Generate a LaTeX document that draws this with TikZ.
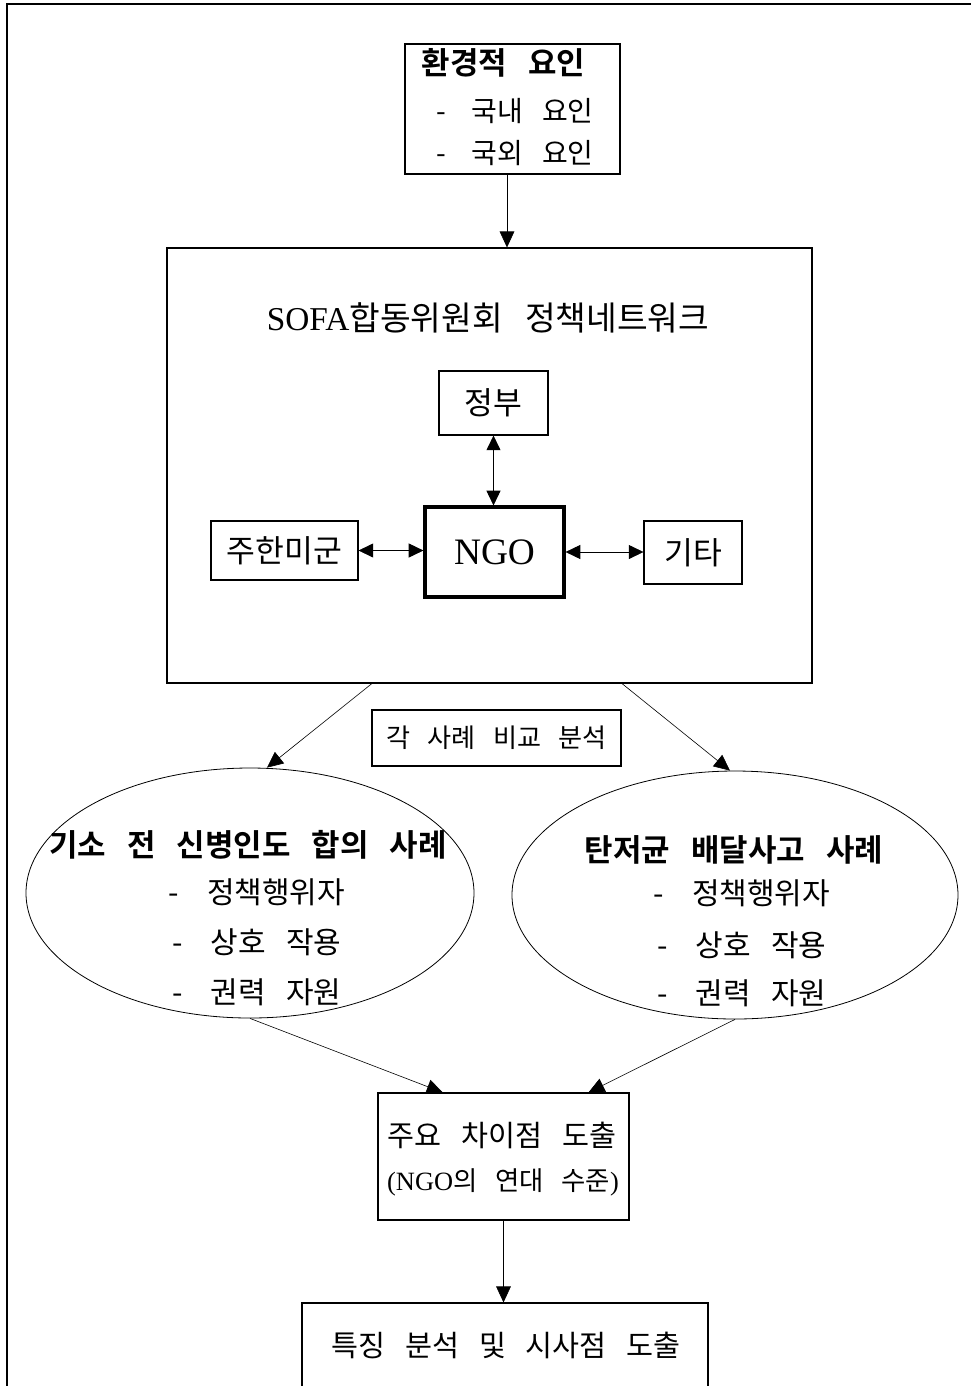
\documentclass[tikz,border=0pt]{standalone}
\usepackage{fontspec}
\setmainfont{Liberation Serif}
\newfontfamily\kr[WordSpace=3,BoldFont={Noto Sans CJK KR Bold}]{Noto Sans CJK KR}
\usetikzlibrary{arrows.meta,shapes.geometric,calc}
\newcommand\myfs[1]{\fontsize{#1}{#1}\selectfont}
\newcommand\dashgap{-\hspace{0.25em} }
\begin{document}
\begin{tikzpicture}[x=0.75pt,y=-0.75pt,
  box/.style={draw, line width=0.8pt, inner sep=0pt, rectangle},
  oval/.style={draw, line width=0.6pt, inner sep=0pt, ellipse},
  txt/.style={inner sep=0pt, anchor=center},
  arr/.style={-{Triangle[length=12pt,width=11pt]}, line width=0.45pt},
  darr/.style={{Triangle[length=11pt,width=10.5pt]}-{Triangle[length=11pt,width=10.5pt]}, line width=0.45pt}
]
\useasboundingbox (0,0) rectangle (971,1386);
\clip (0,0) rectangle (971,1386);
\fill[white] (0,0) rectangle (971,1386);

% outer frame
\draw[line width=1.5pt] (980,4) -- (7,4) -- (7,1400);

% environmental factors
\node[box, minimum width=161.25pt, minimum height=97.5pt] (env) at (512.5,109) {};
\node[txt, font={\kr\bfseries\myfs{23.2pt}}] (envt) at (503.5,63) {환경적 요인};
\node[txt, font={\kr\myfs{21pt}}] (env1) at (515,111) {\dashgap 국내 요인};
\node[txt, font={\kr\myfs{21pt}}] (env2) at (515,153) {\dashgap 국외 요인};

% big network box
\node[box, minimum width=483.75pt, minimum height=326.25pt] (big) at (489.5,465.5) {};
\node[txt, font={\kr\myfs{25pt}}] (bigt) at (488,318) {{\rmfamily SOFA}합동위원회 정책네트워크};

\node[box, minimum width=81.75pt, minimum height=48pt, font={\kr\myfs{23.5pt}}] (gov) at (493.5,403) {정부};
\node[box, line width=2.4pt, minimum width=104.25pt, minimum height=67.5pt, font={\rmfamily\myfs{28pt}}] (ngo) at (494.5,552) {NGO};
\node[box, minimum width=110.25pt, minimum height=44.25pt, font={\kr\myfs{23.5pt}}] (usfk) at (284.5,550.5) {주한미군};
\node[box, minimum width=73.5pt, minimum height=47.25pt, font={\kr\myfs{23.5pt}}] (etc) at (693,552.5) {기타};

\draw[darr] (gov.south) -- (gov.south |- ngo.north);
\draw[darr] (usfk.east) -- (usfk.east -| ngo.west);
\draw[darr] (ngo.east) -- (ngo.east -| etc.west);

% arrow env -> big
\coordinate (e1) at ($(env.south)+(-5.5,0)$);
\draw[arr] (e1) -- (e1 |- big.north);

% comparison label
\node[box, minimum width=186.75pt, minimum height=42pt, font={\kr\myfs{19.6pt}}] (cmp) at (496.5,738) {각 사례 비교 분석};

% cases
\node[oval, minimum width=336pt, minimum height=187.5pt] (lcase) at (250,893) {};
\node[txt, font={\kr\bfseries\myfs{23.2pt}}] (lt) at (248,845) {기소 전 신병인도 합의 사례};
\node[txt, font={\kr\myfs{22.5pt}}] (l1t) at (257,892) {\dashgap 정책행위자};
\node[txt, font={\kr\myfs{22.5pt}}] (l2t) at (257,942) {\dashgap 상호 작용};
\node[txt, font={\kr\myfs{22.5pt}}] (l3t) at (257,992) {\dashgap 권력 자원};

\node[oval, minimum width=334.5pt, minimum height=186pt] (rcase) at (735,895) {};
\node[txt, font={\kr\bfseries\myfs{23.2pt}}] (rt) at (734,850) {탄저균 배달사고 사례};
\node[txt, font={\kr\myfs{22.5pt}}] (r1t) at (742,893) {\dashgap 정책행위자};
\node[txt, font={\kr\myfs{22.5pt}}] (r2t) at (742,945) {\dashgap 상호 작용};
\node[txt, font={\kr\myfs{22.5pt}}] (r3t) at (742,993) {\dashgap 권력 자원};

\coordinate (b1) at ($(big.south west)!0.318!(big.south east)$);
\coordinate (l1) at ($(lcase.north)+(17,0)$);
\draw[arr] (b1) -- (l1);
\coordinate (b2) at ($(big.south west)!0.705!(big.south east)$);
\coordinate (r1) at ($(rcase.north)+(-5,0)$);
\draw[arr] (b2) -- (r1);

% key differences
\node[box, minimum width=188.25pt, minimum height=95.25pt] (key) at (503.5,1156.5) {};
\node[txt, font={\kr\myfs{22pt}}] (keyt1) at (502,1135) {주요 차이점 도출};
\node[txt, font={\kr\myfs{19.8pt}}] (keyt2) at (503,1182) {{\rmfamily (NGO}의 연대 수준{\rmfamily )}};

\coordinate (k1) at ($(key.north west)!0.259!(key.north east)$);
\coordinate (k2) at ($(key.north west)!0.837!(key.north east)$);
\draw[arr] (lcase.south) -- (k1);
\draw[arr] (rcase.south) -- (k2);

% final
\node[box, minimum width=304.5pt, minimum height=75pt] (final) at (505,1353) {};
\node[txt, font={\kr\myfs{22pt}}] (finalt) at (506,1345) {특징 분석 및 시사점 도출};
\draw[arr] (key.south) -- (key.south |- final.north);
\end{tikzpicture}
\end{document}
